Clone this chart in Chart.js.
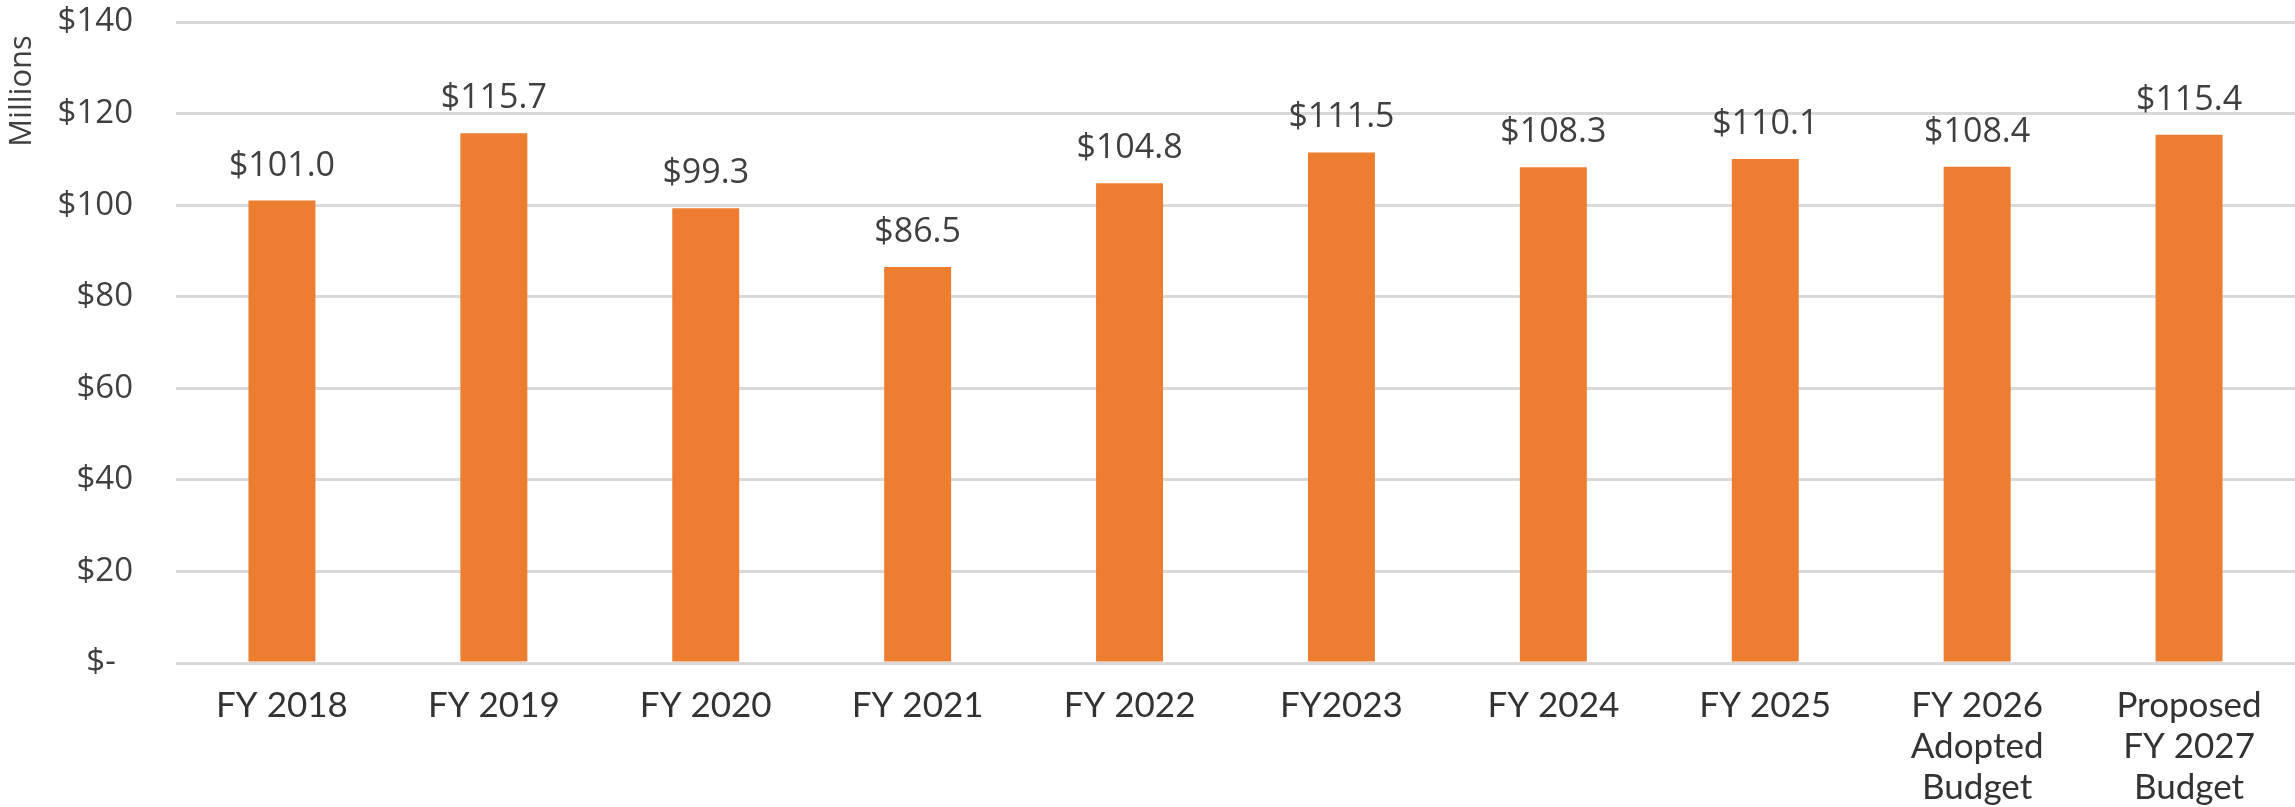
<!DOCTYPE html>
<html>
<head>
<meta charset="utf-8">
<script src="https://cdn.jsdelivr.net/npm/chart.js@4"></script>
<style>
    html, body { margin: 0; padding: 0; background: #fff; }
    #wrap { width: 2295px; height: 807px; }
</style>
</head>
<body>
<div id="wrap"><canvas id="budgetChart" width="2295" height="807"></canvas></div>
<script>
const categories = [
    'FY 2018', 'FY 2019', 'FY 2020', 'FY 2021', 'FY 2022',
    'FY2023', 'FY 2024', 'FY 2025',
    ['FY 2026', 'Adopted', 'Budget'],
    ['Proposed', 'FY 2027', 'Budget']
];
const budgetValues = [101.0, 115.7, 99.3, 86.5, 104.8, 111.5, 108.3, 110.1, 108.4, 115.4];
const yTicks = [0, 20, 40, 60, 80, 100, 120, 140];
const unitLabel = 'Millions';

const textColor = '#404040';
const barColor = '#ED7D31';

// draws the "$xxx.x" value above each bar, and the unit label near the top of the y axis
const valueLabels = {
    id: 'valueLabels',
    afterDatasetsDraw(chart) {
        const ctx = chart.ctx;
        const meta = chart.getDatasetMeta(0);
        ctx.save();
        ctx.font = '34px "Open Sans"';
        ctx.fillStyle = textColor;
        ctx.textAlign = 'center';
        ctx.textBaseline = 'alphabetic';
        meta.data.forEach((bar, i) => {
            ctx.fillText('$' + budgetValues[i].toFixed(1), bar.x, bar.y - 25);
        });

        const top = chart.chartArea.top;
        ctx.translate(31, top + 69);
        ctx.rotate(-Math.PI / 2);
        ctx.font = '31px "Open Sans"';
        ctx.fillText(unitLabel, 0, 0);
        ctx.restore();
    }
};

new Chart(document.getElementById('budgetChart'), {
    type: 'bar',
    data: {
        labels: categories,
        datasets: [{
            data: budgetValues,
            backgroundColor: barColor,
            barPercentage: 0.316,
            categoryPercentage: 1
        }]
    },
    options: {
        responsive: false,
        animation: false,
        layout: { padding: { top: 22, right: 0, left: 0, bottom: 0 } },
        plugins: {
            legend: { display: false },
            tooltip: { enabled: false }
        },
        scales: {
            x: {
                grid: { display: false, drawTicks: false },
                border: { display: false },
                ticks: {
                    color: '#333333',
                    font: { family: 'Lato', size: 35, lineHeight: 1.17 },
                    padding: 22,
                    maxRotation: 0,
                    autoSkip: false
                },
                afterFit(scale) { scale.height = 144; }
            },
            y: {
                min: 0,
                max: 140,
                afterBuildTicks(scale) {
                    scale.ticks = yTicks.map(v => ({ value: v }));
                },
                grid: { color: '#d9d9d9', lineWidth: 3, drawTicks: false },
                border: { display: false },
                ticks: {
                    color: textColor,
                    font: { family: 'Open Sans', size: 33 },
                    padding: 43,
                    callback: v => v === 0 ? '$-  ' : '$' + v
                },
                afterFit(scale) {
                    // fixed axis width, no extra space above the top tick
                    scale.width = 176;
                    scale.paddingTop = 0;
                }
            }
        }
    },
    plugins: [valueLabels]
});
</script>
</body>
</html>
